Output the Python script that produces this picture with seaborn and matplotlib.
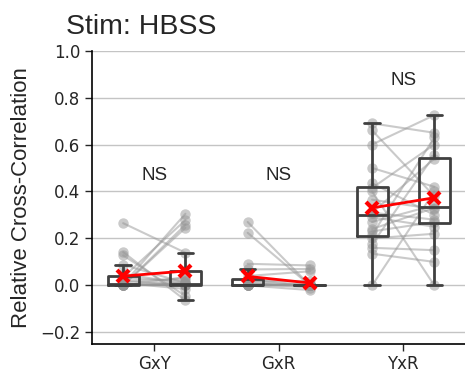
import numpy as np
import pandas as pd
import matplotlib
matplotlib.use("Agg")
import matplotlib.pyplot as plt
import seaborn as sns

# ---- data (one value per subject, paired before/after) ----
groups = ["GxY", "GxR", "YxR"]
conditions = ["Baseline", "HBSS"]

gxy_pre = [0.265, 0.142, 0.128, 0.088, 0.05, 0.035, 0.03, 0.02, 0.015, 0.01,
           0.005, 0.0, 0.0, 0.0, 0.0, 0.0, 0.0, 0.0, 0.0, 0.0]
gxy_post = [0.139, -0.064, -0.045, 0.01, 0.005, 0.278, 0.02, 0.0, 0.03, -0.015,
            0.305, 0.245, 0.258, 0.0, 0.0, 0.005, 0.005, 0.015, 0.035, 0.0]

gxr_pre = [0.27, 0.224, 0.092, 0.068, 0.04, 0.025, 0.02, 0.015, 0.01, 0.005,
           0.0, 0.0, 0.0, 0.0, 0.0, 0.0, 0.0, 0.0, 0.0, 0.0]
gxr_post = [0.0, 0.0, 0.085, 0.07, 0.06, 0.0, 0.02, 0.0, -0.01, 0.0,
            -0.02, 0.0, 0.0, 0.0, 0.0, 0.0, 0.0, 0.0, 0.0, 0.0]

yxr_pre = [0.0, 0.135, 0.16, 0.175, 0.20, 0.215, 0.23, 0.24, 0.27, 0.29,
           0.31, 0.31, 0.365, 0.40, 0.415, 0.435, 0.50, 0.60, 0.66, 0.69]
yxr_post = [0.40, 0.10, 0.15, 0.555, 0.22, 0.63, 0.27, 0.33, 0.342, 0.25,
            0.54, 0.28, 0.325, 0.0, 0.60, 0.30, 0.42, 0.725, 0.38, 0.65]

sig_labels = ["NS", "NS", "NS"]
sig_y = [0.47, 0.47, 0.872]
y_ticks = [-0.2, 0.0, 0.2, 0.4, 0.6, 0.8, 1.0]

# ---- long table ----
pairs = {"GxY": (gxy_pre, gxy_post), "GxR": (gxr_pre, gxr_post), "YxR": (yxr_pre, yxr_post)}
rows = []
for g in groups:
    pre, post = pairs[g]
    for s, (a, b) in enumerate(zip(pre, post)):
        rows.append(dict(pair=g, cond=conditions[0], value=a, subject=s))
        rows.append(dict(pair=g, cond=conditions[1], value=b, subject=s))
df = pd.DataFrame(rows)

sns.set_style("ticks")
plt.rcParams["font.family"] = ["DejaVu Sans"]

fig = plt.figure(figsize=(4.65, 3.72), dpi=100)
ax = fig.add_axes([0.198, 0.075, 0.803, 0.789])
ax.yaxis.grid(True, color="#c4c4c4", lw=1)
ax.set_axisbelow(True)

box_color = "#404040"
sns.boxplot(data=df, x="pair", y="value", hue="cond", order=groups,
            hue_order=conditions, width=1.0, gap=0.5, dodge=True, fill=False,
            palette=[box_color, box_color], linewidth=2, showfliers=False,
            legend=False, ax=ax)

off = 0.25
for i, g in enumerate(groups):
    sub = df[df["pair"] == g]
    for s, d in sub.groupby("subject"):
        a = d[d["cond"] == conditions[0]]["value"].iloc[0]
        b = d[d["cond"] == conditions[1]]["value"].iloc[0]
        ax.plot([i - off, i + off], [a, b], color="#969696", alpha=0.5, lw=1.5,
                marker="o", ms=7.5, mec="none", zorder=1.5)

means = df.groupby(["pair", "cond"])["value"].mean()
for i, g in enumerate(groups):
    ax.plot([i - off, i + off], [means[(g, conditions[0])], means[(g, conditions[1])]],
            color="red", lw=2, marker="x", ms=8.5, mew=3, zorder=6)
    ax.text(i, sig_y[i], sig_labels[i], ha="center", va="center", fontsize=13.5,
            family="Liberation Sans")

ax.set_xlim(-0.5, 2.5)
ax.set_ylim(-0.25, 1.0)
ax.set_yticks(y_ticks)
ax.set_xlabel("")
ax.set_ylabel("Relative Cross-Correlation", family="Liberation Sans", fontsize=16)
ax.yaxis.set_label_coords(-0.16, 0.5)
ax.tick_params(labelsize=12, length=5, width=1)
ax.tick_params(axis="x", pad=2.5)
sns.despine(ax=ax)
for sp in ["left", "bottom"]:
    ax.spines[sp].set_linewidth(1.2)
    ax.spines[sp].set_color("black")

fig.text(0.142, 0.909, "Stim: HBSS", fontsize=20.5, family="Liberation Sans",
         va="baseline", ha="left")

fig.savefig("out.png", dpi=100)
